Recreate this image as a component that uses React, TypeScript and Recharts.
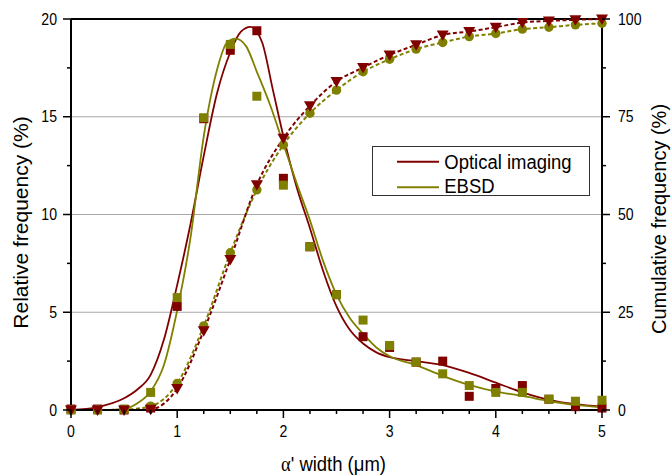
import { ComposedChart, Line, XAxis, YAxis, ReferenceLine, Legend, Label } from "recharts";

const OPT = "#800000";
const EBSD = "#808000";
const FONT = "'Liberation Sans', Arial, sans-serif";

// bin centres (µm)
const widths = [0, 0.25, 0.5, 0.75, 1, 1.25, 1.5, 1.75, 2, 2.25, 2.5, 2.75, 3, 3.25, 3.5, 3.75, 4, 4.25, 4.5, 4.75, 5];
// relative frequency (%)
const opticalRel = [0.05, 0.05, 0, 0.1, 5.3, 14.9, 18.4, 19.4, 11.85, 8.35, 5.9, 3.75, 3.2, 2.45, 2.5, 0.7, 1.1, 1.25, 0.55, 0.17, 0.1];
const ebsdRel = [0, 0, 0.05, 0.9, 5.75, 14.95, 18.7, 16.05, 11.5, 8.35, 5.9, 4.6, 3.3, 2.45, 1.85, 1.25, 0.9, 0.9, 0.55, 0.45, 0.5];
// cumulative frequency (%)
const opticalCum = [0, 0, 0, 0.2, 5.5, 20.3, 38.5, 57.6, 69.5, 77.8, 84.0, 87.6, 90.8, 93.4, 95.9, 96.8, 97.9, 99.1, 99.5, 99.8, 100];
const ebsdCum = [0, 0, 0.1, 1.0, 6.8, 21.5, 40.2, 56.3, 67.8, 75.9, 81.8, 86.5, 89.7, 92.3, 94.0, 95.5, 96.3, 97.4, 97.9, 98.5, 98.9];

// fitted curves
const opticalFitX = [0, 0.25, 0.5, 0.625, 0.75, 0.875, 1, 1.125, 1.25, 1.375, 1.5, 1.6, 1.69, 1.8, 1.9, 2, 2.125, 2.25, 2.375, 2.5, 2.625, 2.75, 2.875, 3, 3.25, 3.5, 3.75, 4, 4.25, 4.5, 4.75, 5];
const opticalFitY = [0, 0.15, 0.6, 1.05, 1.8, 3.6, 6.4, 9.5, 13.0, 16.2, 18.3, 19.35, 19.6, 18.8, 16.4, 14.0, 11.4, 9.3, 7.1, 5.3, 4.1, 3.4, 2.95, 2.7, 2.5, 2.3, 1.9, 1.4, 0.9, 0.52, 0.3, 0.17];
const ebsdFitX = [0, 0.25, 0.5, 0.625, 0.75, 0.875, 1, 1.125, 1.25, 1.375, 1.47, 1.55, 1.65, 1.75, 1.875, 2, 2.125, 2.25, 2.375, 2.5, 2.625, 2.75, 2.875, 3, 3.25, 3.5, 3.75, 4, 4.25, 4.5, 4.75, 5];
const ebsdFitY = [0, 0, 0.05, 0.35, 0.95, 2.3, 5.1, 8.8, 14.0, 17.4, 18.8, 19.0, 18.6, 17.3, 15.6, 13.6, 11.6, 9.7, 7.6, 5.9, 4.7, 3.9, 3.2, 2.75, 2.3, 1.75, 1.28, 0.94, 0.72, 0.46, 0.26, 0.14];

const xTicks = [0, 0.25, 0.5, 0.75, 1, 1.25, 1.5, 1.75, 2, 2.25, 2.5, 2.75, 3, 3.25, 3.5, 3.75, 4, 4.25, 4.5, 4.75, 5];
const leftTicks = [0, 2.5, 5, 7.5, 10, 12.5, 15, 17.5, 20];
const rightTicks = [0, 12.5, 25, 37.5, 50, 62.5, 75, 87.5, 100];
const gridValues = [5, 10, 15];

const pts = (xs: number[], ys: number[]) => xs.map((x, i) => ({ x, y: ys[i] }));

function BottomTick({ x, y, payload }: any) {
  const major = Number.isInteger(payload.value);
  return (
    <g>
      <line x1={x} x2={x} y1={y} y2={y + (major ? 8 : 4)} stroke="#000" strokeWidth={1.5} />
      {major && (
        <text transform={`translate(${x},${y + 26.5}) scale(0.88,1)`} textAnchor="middle" fontSize={16} fontFamily={FONT} fill="#000">
          {payload.value}
        </text>
      )}
    </g>
  );
}

function LeftTick({ x, y, payload }: any) {
  const major = payload.value % 5 === 0;
  return (
    <g>
      <line x1={x} x2={x - (major ? 8 : 4)} y1={y} y2={y} stroke="#000" strokeWidth={1.5} />
      {major && (
        <text transform={`translate(${x - 14},${y + 5.7}) scale(0.88,1)`} textAnchor="end" fontSize={16} fontFamily={FONT} fill="#000">
          {payload.value}
        </text>
      )}
    </g>
  );
}

function RightTick({ x, y, payload }: any) {
  const major = payload.value % 25 === 0;
  return (
    <g>
      <line x1={x} x2={x + (major ? 8 : 4)} y1={y} y2={y} stroke="#000" strokeWidth={1.5} />
      {major && (
        <text transform={`translate(${x + 16},${y + 5.7}) scale(0.88,1)`} textAnchor="start" fontSize={16} fontFamily={FONT} fill="#000">
          {payload.value}
        </text>
      )}
    </g>
  );
}

const square = (color: string) => (p: any) => (
  <rect key={`sq${p.index}`} x={p.cx - 4.5} y={p.cy - 4.5} width={9} height={9} fill={color} />
);
const triangle = (p: any) => (
  <path key={`tr${p.index}`} d={`M${p.cx - 6},${p.cy - 4.5} L${p.cx + 6},${p.cy - 4.5} L${p.cx},${p.cy + 6} Z`} fill={OPT} />
);
const circle = (p: any) => <circle key={`ci${p.index}`} cx={p.cx} cy={p.cy} r={4.7} fill={EBSD} />;

function LegendBox() {
  return (
    <svg width={218} height={50} style={{ display: "block" }}>
      <rect x={0.5} y={0.5} width={217} height={49} fill="#fff" stroke="#333" />
      <line x1={25} x2={67} y1={15.7} y2={15.7} stroke={OPT} strokeWidth={2} />
      <text transform="translate(72.3,23.3) scale(0.88,1)" fontSize={21} fontFamily={FONT} fill="#000">
        Optical imaging
      </text>
      <line x1={25} x2={67} y1={41.3} y2={41.3} stroke={EBSD} strokeWidth={2} />
      <text transform="translate(72.3,46.7) scale(0.88,1)" fontSize={21} fontFamily={FONT} fill="#000">
        EBSD
      </text>
    </svg>
  );
}

export default function App() {
  return (
    <div style={{ position: "absolute", left: 0, top: 0, background: "#fff" }}>
      <ComposedChart width={671} height={475} margin={{ top: 19, right: 0, bottom: 0, left: 0 }}>
        <XAxis
          type="number"
          dataKey="x"
          domain={[0, 5]}
          ticks={xTicks}
          interval={0}
          height={65}
          tickSize={0}
          tickMargin={0}
          tickLine={false}
          tick={<BottomTick />}
          axisLine={{ stroke: "#000", strokeWidth: 2 }}
        >
          <Label
            content={() => (
              <text transform="translate(333.5,471) scale(0.88,1)" textAnchor="middle" fontSize={21} fontFamily={FONT} fill="#000">
                <tspan fontFamily="'Liberation Serif', serif">α</tspan>' width (μm)
              </text>
            )}
          />
        </XAxis>
        <YAxis
          yAxisId="left"
          type="number"
          domain={[0, 20]}
          ticks={leftTicks}
          interval={0}
          width={71}
          tickSize={0}
          tickMargin={0}
          tickLine={false}
          tick={<LeftTick />}
          axisLine={{ stroke: "#000", strokeWidth: 2 }}
        >
          <Label
            content={() => (
              <text transform="translate(28.3,222.5) rotate(-90)" textAnchor="middle" fontSize={21} fontFamily={FONT} fill="#000">
                Relative frequency (%)
              </text>
            )}
          />
        </YAxis>
        <YAxis
          yAxisId="right"
          orientation="right"
          type="number"
          domain={[0, 100]}
          ticks={rightTicks}
          interval={0}
          width={69}
          tickSize={0}
          tickMargin={0}
          tickLine={false}
          tick={<RightTick />}
          axisLine={{ stroke: "#000", strokeWidth: 2 }}
        >
          <Label
            content={() => (
              <text transform="translate(666,219) rotate(-90)" textAnchor="middle" fontSize={20} fontFamily={FONT} fill="#000">
                Cumulative frequency (%)
              </text>
            )}
          />
        </YAxis>

        {gridValues.map((v) => (
          <ReferenceLine key={v} yAxisId="left" y={v} stroke="#a8a8a8" strokeWidth={1} />
        ))}
        <ReferenceLine yAxisId="left" y={20} stroke="#000" strokeWidth={2} />

        <Line yAxisId="left" data={pts(opticalFitX, opticalFitY)} dataKey="y" type="monotone" stroke={OPT} strokeWidth={1.8} dot={false} activeDot={false} isAnimationActive={false} />
        <Line yAxisId="left" data={pts(ebsdFitX, ebsdFitY)} dataKey="y" type="monotone" stroke={EBSD} strokeWidth={1.8} dot={false} activeDot={false} isAnimationActive={false} />

        <Line yAxisId="left" data={pts(widths, opticalRel)} dataKey="y" stroke="none" dot={square(OPT)} activeDot={false} isAnimationActive={false} />
        <Line yAxisId="left" data={pts(widths, ebsdRel)} dataKey="y" stroke="none" dot={square(EBSD)} activeDot={false} isAnimationActive={false} />

        <Line yAxisId="right" data={pts(widths, ebsdCum)} dataKey="y" type="monotone" stroke={EBSD} strokeWidth={2} strokeDasharray="4 2.5" dot={circle} activeDot={false} isAnimationActive={false} />
        <Line yAxisId="right" data={pts(widths, opticalCum)} dataKey="y" type="monotone" stroke={OPT} strokeWidth={2} strokeDasharray="4 2.5" dot={triangle} activeDot={false} isAnimationActive={false} />

        <Legend
          layout="vertical"
          align="center"
          verticalAlign="middle"
          content={() => <LegendBox />}
          wrapperStyle={{ left: 372, top: 146, width: 218, height: 50 }}
        />
      </ComposedChart>
    </div>
  );
}
